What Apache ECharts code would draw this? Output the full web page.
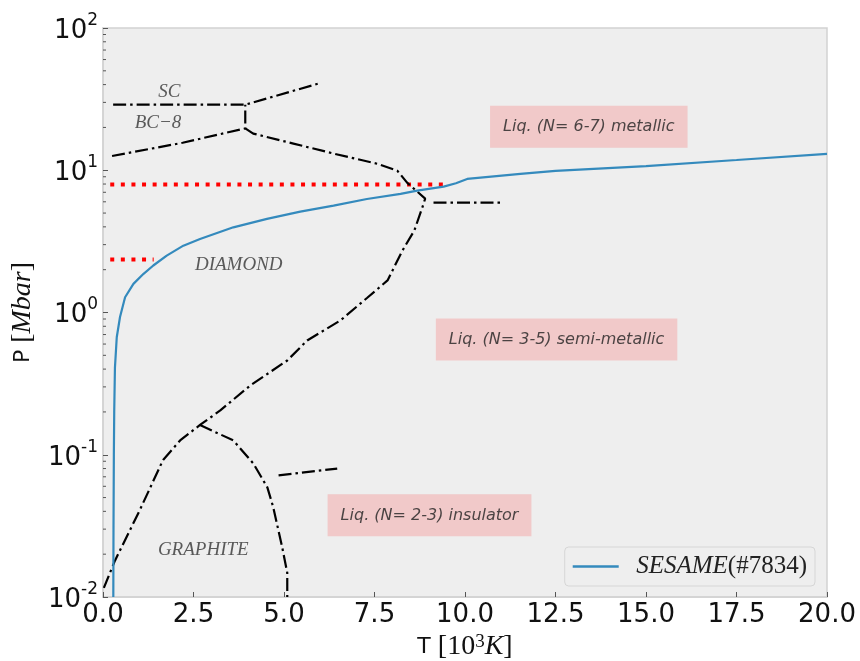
<!DOCTYPE html>
<html>
<head>
<meta charset="utf-8">
<style>
  html, body { margin: 0; padding: 0; background: #fff; }
  #chart { width: 860px; height: 661px; }
</style>
<script src="https://cdn.jsdelivr.net/npm/echarts@6/dist/echarts.min.js"></script>
</head>
<body>
<div id="chart"></div>
<script>
// T in 10^3 K, P in Mbar
const xTicks = [0, 2.5, 5, 7.5, 10, 12.5, 15, 17.5, 20];

// SESAME #7834 curve
const sesame = [
  [0.285, 0.01], [0.29, 0.03], [0.30, 0.1], [0.31, 0.2], [0.33, 0.41],
  [0.38, 0.67], [0.47, 0.93], [0.61, 1.28], [0.84, 1.59], [1.12, 1.87],
  [1.39, 2.14], [1.76, 2.51], [2.22, 2.95], [2.68, 3.29], [3.6, 3.97],
  [4.53, 4.55], [5.45, 5.12], [6.37, 5.64], [7.29, 6.28], [8.22, 6.82],
  [8.68, 7.19], [9.41, 7.67], [9.75, 8.1], [10.06, 8.69], [11.53, 9.42],
  [12.5, 9.9], [15, 10.7], [17.5, 11.8], [20, 13.05]
];

// red dotted markers
const redUpper = [[0.2, 7.95], [9.4, 7.95]];
const redLower = [[0.2, 2.36], [1.4, 2.36]];

// dash-dot phase boundaries
const scLine = [[0.28, 28.9], [3.93, 28.9], [6.0, 41]];
const bc8Diamond = [[0.25, 12.6], [2.2, 15.6], [3.93, 19.7], [3.93, 28.9]];
const meltLine = [
  [3.93, 19.7], [4.15, 18.1], [5.26, 15.4], [6.37, 13.1], [7.58, 11.1],
  [8.13, 9.93], [8.4, 8.18], [8.9, 6.32], [8.82, 5.46], [8.6, 3.77],
  [8.27, 2.72], [7.86, 1.68], [7.3, 1.27], [6.56, 0.88], [5.64, 0.636],
  [5.09, 0.46], [4.07, 0.307], [3.24, 0.205], [2.68, 0.162], [2.13, 0.126],
  [1.66, 0.092], [1.02, 0.041], [0.33, 0.018], [0, 0.0112]
];
const liquidStep = [[9.13, 5.92], [11.04, 5.92]];
const graphiteMelt = [
  [2.68, 0.162], [3.6, 0.126], [4.15, 0.087], [4.54, 0.059], [4.7, 0.043],
  [4.95, 0.0224], [5.09, 0.0148], [5.09, 0.01]
];
const graphiteStub = [[4.85, 0.0716], [6.47, 0.080]];

// phase names
const phaseNames = ['SC', 'BC\u22128', 'DIAMOND', 'GRAPHITE'];
const phaseT = [1.83, 1.52, 3.75, 2.77];
const phaseP = [35.6, 21.6, 2.14, 0.0213];

// liquid region boxes
const liqNames = ['Liq. (N= 6-7) metallic', 'Liq. (N= 3-5) semi-metallic', 'Liq. (N= 2-3) insulator'];
const liqT = [13.42, 12.53, 9.02];
const liqP = [20.2, 0.646, 0.0375];

const minorMantissa = [2, 3, 4, 5, 6, 7, 8, 9];
const decades = [0.01, 0.1, 1, 10];

let minorTicks = [];
decades.forEach(d => minorMantissa.forEach(m => minorTicks.push([0, +(m * d).toPrecision(3)])));

const serif = 'Liberation Serif';
const sans = 'DejaVu Sans';

const dashDot = {
  type: 'line', symbol: 'none', silent: true, z: 3,
  lineStyle: { color: '#000', width: 2.2, type: [13, 4, 2.5, 4], cap: 'butt' }
};
const dotted = {
  type: 'line', symbol: 'none', silent: true, z: 2,
  lineStyle: { color: '#ff0000', width: 4, type: [4, 6.6], cap: 'butt' }
};

let myChart = echarts.init(document.getElementById('chart'));

var option = {
  animation: false,
  grid: {
    left: 103, right: 33, top: 28, bottom: 64,
    containLabel: false, outerBoundsMode: 'none',
    show: true, backgroundColor: '#eeeeee', borderColor: '#d2d2d2', borderWidth: 1.5
  },
  legend: {
    data: [{ name: 'SESAME(#7834)', icon: 'rect' }],
    right: 45, bottom: 75,
    backgroundColor: '#eeeeee',
    borderColor: '#d6d6d6', borderWidth: 1, borderRadius: 4,
    padding: [7, 8, 7, 8],
    itemWidth: 46, itemHeight: 2.5, itemGap: 10,
    textStyle: {
      fontFamily: serif, fontSize: 25, color: '#222',
      rich: {
        i: { fontFamily: serif, fontStyle: 'italic', fontSize: 25, color: '#222' },
        n: { fontFamily: serif, fontSize: 25, color: '#222' }
      }
    },
    formatter: () => '  {i|SESAME}{n|(#7834)}'
  },
  xAxis: {
    type: 'value', min: 0, max: 20, interval: 2.5,
    name: 'T {s|[10}{sup|3}{i|K}{s|]}',
    nameLocation: 'middle', nameGap: 26,
    nameTextStyle: {
      fontFamily: sans, fontSize: 22, color: '#111', verticalAlign: 'top',
      rich: {
        s: { fontFamily: serif, fontSize: 28, color: '#111' },
        sup: { fontFamily: serif, fontSize: 19, color: '#111', verticalAlign: 'top', padding: [0, 0, 9, 0] },
        i: { fontFamily: serif, fontStyle: 'italic', fontSize: 28, color: '#111' }
      }
    },
    axisLine: { show: true, lineStyle: { color: '#d2d2d2', width: 1.5 } },
    axisTick: { show: true, inside: true, length: 5, lineStyle: { color: '#555' } },
    axisLabel: {
      fontFamily: sans, fontSize: 26, color: '#111', margin: 5,
      formatter: v => xTicks.includes(v) ? v.toFixed(1) : ''
    },
    splitLine: { show: false }
  },
  yAxis: {
    type: 'log', logBase: 10, min: 0.01, max: 100,
    name: 'P {s|[}{i|Mbar}{s|]}',
    nameLocation: 'middle', nameGap: 62, nameRotate: 90,
    nameTextStyle: {
      fontFamily: sans, fontSize: 22, color: '#111',
      rich: {
        s: { fontFamily: serif, fontSize: 28, color: '#111' },
        i: { fontFamily: serif, fontStyle: 'italic', fontSize: 28, color: '#111' }
      }
    },
    axisLine: { show: true, lineStyle: { color: '#d2d2d2', width: 1.5 } },
    axisTick: { show: true, inside: true, length: 5, lineStyle: { color: '#555' } },
    axisLabel: {
      margin: 5,
      formatter: v => '{b|10}{e|' + Math.round(Math.log10(v)) + '}',
      rich: {
        b: { fontFamily: sans, fontSize: 26, color: '#111', lineHeight: 32, verticalAlign: 'bottom' },
        e: { fontFamily: sans, fontSize: 17, color: '#111', verticalAlign: 'top', padding: [0, 0, 14, 0] }
      }
    },
    splitLine: { show: false }
  },
  series: [
    {
      type: 'custom', silent: true, z: 1, clip: false,
      data: minorTicks,
      renderItem: (params, api) => {
        const p = api.coord([0, api.value(1)]);
        return {
          type: 'line',
          shape: { x1: p[0], y1: p[1], x2: p[0] + 3, y2: p[1] },
          style: { stroke: '#555', lineWidth: 1 }
        };
      }
    },
    Object.assign({ data: redUpper }, dotted),
    Object.assign({ data: redLower }, dotted),
    Object.assign({ data: scLine }, dashDot),
    Object.assign({ data: bc8Diamond }, dashDot),
    Object.assign({ data: meltLine }, dashDot),
    Object.assign({ data: liquidStep }, dashDot),
    Object.assign({ data: graphiteMelt }, dashDot),
    Object.assign({ data: graphiteStub }, dashDot),
    {
      name: 'SESAME(#7834)', type: 'line', symbol: 'none', z: 4,
      data: sesame,
      lineStyle: { color: '#348ABD', width: 2.2 },
      itemStyle: { color: '#348ABD' }
    },
    {
      type: 'scatter', symbolSize: 0, silent: true, z: 5,
      data: phaseNames.map((n, i) => ({ name: n, value: [phaseT[i], phaseP[i]] })),
      label: {
        show: true, position: 'inside', formatter: p => p.name,
        fontFamily: serif, fontStyle: 'italic', fontSize: 19, color: '#333'
      }
    },
    {
      type: 'scatter', symbolSize: 0, silent: true, z: 5,
      data: liqNames.map((n, i) => ({ name: n, value: [liqT[i], liqP[i]] })),
      label: {
        show: true, position: 'inside', formatter: p => p.name,
        fontFamily: sans, fontStyle: 'italic', fontSize: 16, color: '#222',
        backgroundColor: '#f1bfbf', padding: [11, 13], lineHeight: 20
      }
    }
  ]
};

myChart.setOption(option);
window.addEventListener('resize', function () { myChart.resize(); });
</script>
</body>
</html>
